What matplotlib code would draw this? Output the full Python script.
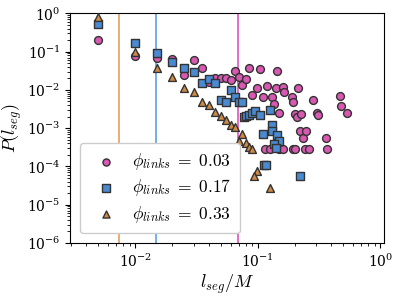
import matplotlib
matplotlib.use("Agg")
import matplotlib.pyplot as plt

plt.rcParams['mathtext.fontset'] = 'cm'
plt.rcParams['font.family'] = 'serif'
plt.rcParams['font.serif'] = ['DejaVu Serif']

# phi_links = 0.03 (circles)
x_c = [0.005, 0.01, 0.015, 0.02, 0.025, 0.03, 0.035, 0.04, 0.045, 0.05, 0.055, 0.06,
       0.065, 0.07, 0.075, 0.08, 0.085, 0.09, 0.098, 0.105, 0.11, 0.12, 0.13, 0.135,
       0.14, 0.145, 0.15, 0.16, 0.165, 0.19, 0.195, 0.20, 0.215, 0.21, 0.225, 0.222,
       0.235, 0.25, 0.28, 0.305, 0.31, 0.36, 0.47, 0.48, 0.535,
       0.115, 0.125, 0.15, 0.16, 0.195, 0.20, 0.245, 0.26, 0.365]
y_c = [0.20, 0.077, 0.069, 0.064, 0.0245, 0.060, 0.037, 0.016, 0.020, 0.0205, 0.021, 0.018,
       0.031, 0.022, 0.0134, 0.019, 0.037, 0.0074, 0.0114, 0.035, 0.0066, 0.0129, 0.0066, 0.0043,
       0.0115, 0.032, 0.0025, 0.0117, 0.0090, 0.0066, 0.0048, 0.0024, 0.0114, 0.0019, 0.0023, 0.00086,
       0.00056, 0.00086, 0.0055, 0.0025, 0.0022, 0.00056, 0.0071, 0.0039, 0.0025,
       0.00029, 0.00029, 0.00029, 0.00029, 0.00029, 0.00029, 0.00029, 0.00029, 0.00029]

# phi_links = 0.17 (squares)
x_s = [0.005, 0.01, 0.015, 0.02, 0.025, 0.03, 0.035, 0.04, 0.045, 0.05, 0.055, 0.06,
       0.065, 0.07, 0.075, 0.078, 0.08, 0.085, 0.09, 0.095, 0.105, 0.125, 0.11, 0.13,
       0.132, 0.145, 0.15, 0.135, 0.14, 0.112, 0.116, 0.22]
y_s = [0.53, 0.165, 0.094, 0.054, 0.038, 0.029, 0.0155, 0.019, 0.0149, 0.0054, 0.0049, 0.0099,
       0.0066, 0.0049, 0.0047, 0.0020, 0.0021, 0.0022, 0.0025, 0.0028, 0.0022, 0.0030, 0.00070, 0.00118,
       0.00086, 0.00066, 0.00047, 0.00039, 0.00031, 0.000107, 0.000107, 5.5e-5]

# phi_links = 0.33 (triangles)
x_t = [0.005, 0.01, 0.015, 0.02, 0.025, 0.03, 0.035, 0.04, 0.045, 0.05, 0.055, 0.06,
       0.065, 0.07, 0.075, 0.08, 0.085, 0.09, 0.0985, 0.094, 0.125]
y_t = [0.81, 0.099, 0.037, 0.022, 0.0114, 0.0090, 0.0049, 0.0040, 0.0027, 0.0021, 0.0016, 0.00122,
       0.00105, 0.00047, 0.00071, 0.00042, 0.00032, 0.00028, 7.4e-5, 5.5e-5, 2.7e-5]

vlines = [0.0074, 0.0148, 0.069]
labels = [r'$\phi_{links}\;=\;0.03$', r'$\phi_{links}\;=\;0.17$', r'$\phi_{links}\;=\;0.33$']

c_pink = '#D858B2'
c_blue = '#4A8AD0'
c_orange = '#CF8A45'
line_cols = ['#E8A66E', '#6AA8E0', '#E060C0']

fig = plt.figure(figsize=(3.99, 2.98), dpi=100)
ax = fig.add_axes([0.176, 0.185, 0.787, 0.770])

for xv, lc in zip(vlines, line_cols):
    ax.axvline(xv, color=lc, lw=1.3, zorder=1)

ms = 32
ax.scatter(x_c, y_c, s=ms, marker='o', color=c_pink, edgecolor='#333333', linewidth=1.0, zorder=3, label=labels[0])
ax.scatter(x_s, y_s, s=ms, marker='s', color=c_blue, edgecolor='#333333', linewidth=1.0, zorder=4, label=labels[1])
ax.scatter(x_t, y_t, s=ms, marker='^', color=c_orange, edgecolor='#333333', linewidth=1.0, zorder=5, label=labels[2])

ax.set_xscale('log')
ax.set_yscale('log')
ax.set_xlim(0.00295, 1.078)
ax.set_ylim(1e-6, 1)
ax.set_xlabel(r'$l_{seg}/M$', fontsize=13, labelpad=2)
ax.set_ylabel(r'$P(l_{seg})$', fontsize=13, labelpad=2)
ax.tick_params(labelsize=10)
ax.legend(loc='lower left', fontsize=12.5, frameon=True, fancybox=True, handletextpad=0.5,
          labelspacing=0.3, borderaxespad=0.55, borderpad=0.5, framealpha=1.0,
          edgecolor='#cccccc', markerscale=0.9)

fig.savefig('out.png', dpi=100)
